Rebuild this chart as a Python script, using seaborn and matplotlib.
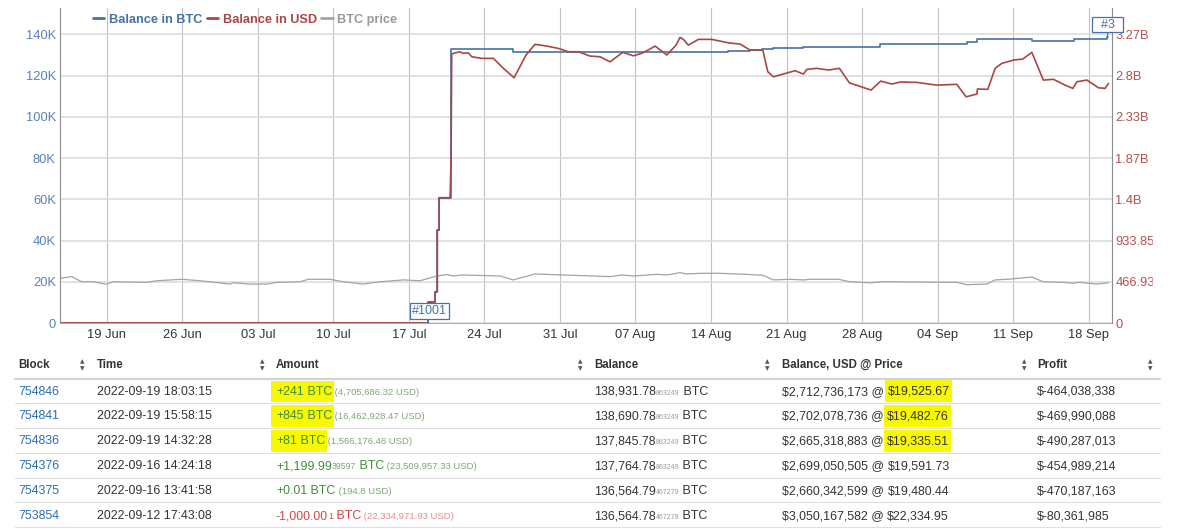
"""
    plot.py
    Wallet balance chart (BTC, USD, BTC price) with the transaction table below.
"""
import pandas as pd
import seaborn as sns
import matplotlib.pyplot as plt
import matplotlib.dates as mdates
from matplotlib.lines import Line2D
from matplotlib.patches import Rectangle

#################################################################################
# Data (x values are days after 2022-06-19 00:00)
#################################################################################

DAY0 = '2022-06-19'
X_RANGE = [-4.33, 93.16]

btc_day = [-4.33, 29.78, 30.43, 30.64, 30.80, 31.95, 37.66, 57.58, 59.62,
           60.73, 61.75, 64.53, 71.67, 79.70, 80.63, 85.74, 89.57, 89.60, 92.61,
           92.67, 92.75]
btc_balance = [0, 10200, 15200, 45100, 60800, 132700, 131600, 132000, 132400,
               132700, 133200, 134000, 135500, 136300, 137564.78, 136564.78,
               136564.79, 137764.78, 137845.78, 138690.78, 138931.78]

usd_day = [-4.33, 29.78, 29.78, 30.43, 30.43, 30.64, 30.64, 30.80, 30.80, 31.82,
           31.91, 31.97, 32.12, 32.74, 32.99, 33.51, 33.83, 34.75, 35.83, 36.76,
           37.75, 38.86, 39.69, 40.78, 41.85, 42.78, 43.71, 44.79, 45.72, 46.64,
           47.82, 48.80, 49.58, 50.29, 50.82, 51.90, 52.76, 53.13, 53.44, 53.90,
           54.83, 56.07, 57.61, 58.69, 59.62, 60.80, 61.26, 61.78, 63.79, 64.56,
           64.88, 65.80, 66.88, 67.90, 68.82, 70.83, 71.73, 72.75, 73.52, 75.07,
           76.92, 78.78, 79.64, 80.63, 80.69, 81.65, 82.33, 82.95, 84.02, 84.89,
           85.73, 86.80, 87.73, 88.81, 89.53, 89.90, 90.83, 91.90, 92.52, 92.83]
usd_balance_b = [0, 0, 0.238, 0.238, 0.355, 0.355, 1.053, 1.053, 1.419, 1.419,
                 1.844, 3.042, 3.054, 3.072, 3.054, 3.060, 3.015, 2.997, 2.997, 2.884,
                 2.778, 3.035, 3.156, 3.136, 3.110, 3.072, 3.072, 3.023, 3.015, 2.958,
                 3.065, 3.026, 3.054, 3.099, 3.136, 3.035, 3.147, 3.235, 3.212, 3.147,
                 3.212, 3.212, 3.173, 3.159, 3.091, 3.091, 2.846, 2.788, 2.857, 2.819,
                 2.872, 2.884, 2.865, 2.884, 2.720, 2.638, 2.740, 2.706, 2.729, 2.725,
                 2.694, 2.703, 2.561, 2.593, 2.650, 2.646, 2.884, 2.940, 2.977, 2.989,
                 3.065, 2.751, 2.760, 2.694, 2.657, 2.732, 2.751, 2.664, 2.657, 2.713]

price_day = [-4.33, -3.24, -2.32, -1.24, -0.06, 0.61, 3.71, 4.63, 6.95, 8.65,
             11.43, 11.74, 13.28, 14.83, 15.76, 17.91, 18.68, 20.70, 21.93, 23.78,
             25.33, 27.49, 29.04, 30.58, 31.51, 32.12, 32.90, 36.45, 37.68, 39.69,
             41.71, 44.49, 46.65, 47.73, 48.80, 50.97, 51.90, 53.13, 53.75, 54.98,
             56.84, 59.31, 60.85, 61.78, 63.33, 64.56, 65.18, 67.80, 68.89, 70.74,
             71.97, 78.78, 79.70, 81.56, 82.33, 83.72, 85.73, 86.80, 88.66, 89.58,
             90.20, 91.75, 92.83]
price_usd = [21700, 22500, 20000, 20000, 18800, 20000, 19700, 20500, 21200, 20500,
             18900, 19500, 18900, 18900, 19700, 20000, 21200, 21200, 20000, 18900,
             20000, 20900, 20500, 22800, 23500, 22800, 23300, 22800, 20900, 23800,
             23400, 22900, 22500, 23300, 22800, 23600, 23300, 24400, 23800, 24100,
             24100, 23600, 23100, 20900, 21200, 20900, 21200, 21200, 20000, 19500,
             20000, 19700, 18600, 18900, 20900, 21300, 22300, 20000, 19700, 19300,
             19700, 18900, 19500]

left_ticks = [0, 20000, 40000, 60000, 80000, 100000, 120000, 140000]
left_labels = ['0', '20K', '40K', '60K', '80K', '100K', '120K', '140K']
right_ticks = [0, 0.46693, 0.93386, 1.40079, 1.86772, 2.33465, 2.80158, 3.26851]
right_labels = ['0', '466.93M', '933.85M', '1.4B', '1.87B', '2.33B', '2.8B', '3.27B']

flag_text = ['#1001', '  #3  ']
flag_day = [29.78, 92.75]
flag_value = [0, 138931.78]

# Transaction table
headers = ['Block', 'Time', 'Amount', 'Balance', 'Balance, USD @ Price', 'Profit']
blocks = ['754846', '754841', '754836', '754376', '754375', '753854']
times = ['2022-09-19 18:03:15', '2022-09-19 15:58:15', '2022-09-19 14:32:28',
         '2022-09-16 14:24:18', '2022-09-16 13:41:58', '2022-09-12 17:43:08']
amount_main = ['+241', '+845', '+81', '+1,199.99', '+0.01', '-1,000.00']
amount_tail = ['', '', '', '39597', '', '1']
amount_usd = ['4,705,686.32', '16,462,928.47', '1,566,176.46',
              '23,509,957.33', '194.8', '22,334,971.93']
balance_main = ['138,931.78', '138,690.78', '137,845.78', '137,764.78',
                '136,564.79', '136,564.78']
balance_tail = ['863249', '863249', '863249', '863249', '467279', '467279']
balance_usd = ['$2,712,736,173', '$2,702,078,736', '$2,665,318,883',
               '$2,699,050,505', '$2,660,342,599', '$3,050,167,582']
price_at = ['$19,525.67', '$19,482.76', '$19,335.51', '$19,591.73',
            '$19,480.44', '$22,334.95']
profits = ['$-464,038,338', '$-469,990,088', '$-490,287,013', '$-454,989,214',
           '$-470,187,163', '$-80,361,985']
highlight_rows = [0, 1, 2]

#################################################################################
# Style
#################################################################################

BLUE = '#4572A7'
RED = '#AA4643'
GREY = '#a3a3a3'
TEXT = '#333333'

sns.set_style('white')
plt.rcParams['font.family'] = ['Liberation Sans', 'DejaVu Sans']


def to_dates(days):
    return pd.Timestamp(DAY0) + pd.to_timedelta(pd.Series(days), unit='D')


def draw_runs(ax, x, y, parts, renderer):
    # Draw text pieces one after another on a shared baseline.
    extents = []
    for text, size, color in parts:
        t = ax.text(x, y, text, fontsize=size, color=color, va='baseline',
                    ha='left', zorder=3)
        bb = t.get_window_extent(renderer)
        extents.append((bb.x0, bb.x1))
        x = bb.x1
    return extents

#################################################################################
# Chart
#################################################################################

btc_df = pd.DataFrame({'date': to_dates(btc_day), 'value': btc_balance})
usd_df = pd.DataFrame({'date': to_dates(usd_day), 'value': usd_balance_b})
price_df = pd.DataFrame({'date': to_dates(price_day), 'value': price_usd})

fig = plt.figure(figsize=(12, 5.29), dpi=100)
ax = fig.add_axes([60 / 1200, 1 - 323 / 529, 1052 / 1200, 315 / 529])
ax2 = ax.twinx()

sns.lineplot(data=btc_df, x='date', y='value', ax=ax, color=BLUE, lw=1.2,
             drawstyle='steps-post', estimator=None, sort=False)
sns.lineplot(data=price_df, x='date', y='value', ax=ax, color=GREY, lw=0.9,
             estimator=None, sort=False)
sns.lineplot(data=usd_df, x='date', y='value', ax=ax2, color=RED, lw=1.2,
             estimator=None, sort=False)

xlim = to_dates(X_RANGE)
ax.set_xlim(xlim.iloc[0], xlim.iloc[1])
ax.set_ylim(0, 152800)
ax2.set_ylim(0, 152800 * 23346.5 / 1e9)

ax.xaxis.set_major_locator(mdates.WeekdayLocator(byweekday=mdates.SU))
ax.xaxis.set_major_formatter(mdates.DateFormatter('%d %b'))
ax.set_yticks(left_ticks)
ax.set_yticklabels(left_labels)
ax2.set_yticks(right_ticks)
ax2.set_yticklabels(right_labels)
for a in (ax, ax2):
    a.set_xlabel('')
    a.set_ylabel('')

ax.tick_params(axis='x', length=0, pad=4.5, labelsize=9.3, labelcolor=TEXT)
ax.tick_params(axis='y', length=0, pad=3, labelsize=9.3, labelcolor='#5b80b8')
ax2.tick_params(axis='y', length=0, pad=2.5, labelsize=9.3, labelcolor='#b5504e')

ax.grid(True, axis='y', color='#dadada', lw=1.1)
ax.grid(True, axis='x', color='#c2c2c2', lw=0.8)
ax.set_axisbelow(True)

ax.spines['top'].set_visible(False)
ax.spines['right'].set_visible(False)
ax.spines['left'].set_color('#8c8c8c')
ax.spines['bottom'].set_color('#b0b0b0')
for side in ('top', 'left', 'bottom'):
    ax2.spines[side].set_visible(False)
ax2.spines['right'].set_color('#8c8c8c')
for sp in list(ax.spines.values()) + list(ax2.spines.values()):
    sp.set_linewidth(0.8)

# Legend across the top-left of the plot.
handles = [Line2D([], [], color=c, lw=2) for c in (BLUE, RED, GREY)]
labels = ['Balance in BTC', 'Balance in USD', 'BTC price']
lg = ax2.legend(handles, labels, ncol=3, loc='center', frameon=False,
                bbox_to_anchor=(0.176, 0.962), handlelength=0.9,
                handletextpad=0.35, columnspacing=0.35,
                prop={'weight': 'bold', 'size': 9.2})
for txt, c in zip(lg.get_texts(), (BLUE, RED, '#999999')):
    txt.set_color(c)

# Flags on the balance line.
flag_dates = to_dates(flag_day)
for text, d, v, ha in zip(flag_text, flag_dates, flag_value, ('left', 'center')):
    dx = -16 if ha == 'left' else 0
    ax2.annotate(text, xy=(mdates.date2num(d), v), xycoords=ax.transData,
                 xytext=(dx, 6), textcoords='offset pixels', ha=ha, va='bottom',
                 fontsize=9, color=BLUE, zorder=5,
                 bbox=dict(boxstyle='square,pad=0.15', fc='white', ec=BLUE, lw=0.9),
                 arrowprops=dict(arrowstyle='-', color=BLUE, lw=0.9,
                                 shrinkA=0, shrinkB=0))

#################################################################################
# Table (pixel coordinates overlay)
#################################################################################

tab = fig.add_axes([0, 0, 1, 1])
tab.set_xlim(0, 1200)
tab.set_ylim(529, 0)
tab.axis('off')

# Chart container clips the right axis labels.
tab.add_patch(Rectangle((1153, 0), 47, 345, color='white', zorder=1))

renderer = fig.canvas.get_renderer()

col_x = [18, 97, 276, 594, 782, 1037]
icon_x = [82, 262, 580, 767, 1024, 1150]
header_y = 365
row_y = [390.7, 415, 440, 465, 490, 515]
line_y = [403.3, 428.3, 452.7, 477.7, 502.3, 527.3]

BODY = 8.9
SMALL = 6.8
TINY = 5.0
GREEN = '#3f8d3a'
GREEN_LIGHT = '#7ea772'
NEG = '#cc4a4a'
NEG_LIGHT = '#e28b8b'
LINK = '#2c6db5'

for h, x in zip(headers, col_x):
    tab.text(x, header_y, h, fontsize=8.3, fontweight='bold', color=TEXT,
             va='center', ha='left', zorder=3)
for x in icon_x:
    tab.text(x, header_y - 3.3, '▲', fontsize=4.2, color='#555555',
             ha='center', va='center', family='DejaVu Sans', zorder=3)
    tab.text(x, header_y + 3.3, '▼', fontsize=4.2, color='#555555',
             ha='center', va='center', family='DejaVu Sans', zorder=3)

tab.plot([15, 1160], [378.5, 378.5], color='#d4d4d4', lw=1.6, zorder=2)
for y in line_y:
    tab.plot([15, 1160], [y, y], color='#dedede', lw=0.8, zorder=2)

for i, yc in enumerate(row_y):
    base = yc + 4.3
    tab.text(col_x[0], base, blocks[i], fontsize=BODY, color=LINK,
             va='baseline', zorder=3)
    tab.text(col_x[1], base, times[i], fontsize=BODY, color=TEXT,
             va='baseline', zorder=3)

    neg = amount_main[i].startswith('-')
    main_c = NEG if neg else GREEN
    light_c = NEG_LIGHT if neg else GREEN_LIGHT
    parts = [(amount_main[i], BODY, main_c)]
    if amount_tail[i]:
        parts.append((amount_tail[i], 6.3, main_c if neg else light_c))
    parts.append((' BTC', BODY, main_c))
    parts.append((' (' + amount_usd[i] + ' USD)', SMALL, light_c))
    ext = draw_runs(tab, col_x[2], base, parts, renderer)
    if i in highlight_rows:
        x0, x1 = ext[0][0] - 5, ext[-2][1] + 2
        tab.add_patch(Rectangle((x0, yc - 10), x1 - x0, 21.5,
                                color='#f8f800', zorder=1.5, lw=0))

    draw_runs(tab, col_x[3], base,
              [(balance_main[i], BODY, TEXT), (balance_tail[i], TINY, '#9a9a9a'),
               (' BTC', BODY, TEXT)], renderer)

    ext = draw_runs(tab, col_x[4], base,
                    [(balance_usd[i] + ' @ ', BODY, TEXT), (price_at[i], BODY, TEXT)],
                    renderer)
    if i in highlight_rows:
        x0, x1 = ext[1][0] - 3, ext[1][1] + 2
        tab.add_patch(Rectangle((x0, yc - 10.5), x1 - x0, 22,
                                color='#f8f800', zorder=1.5, lw=0))

    tab.text(col_x[5], base, profits[i], fontsize=BODY, color=TEXT,
             va='baseline', zorder=3)

fig.savefig('out.png', dpi=100)
